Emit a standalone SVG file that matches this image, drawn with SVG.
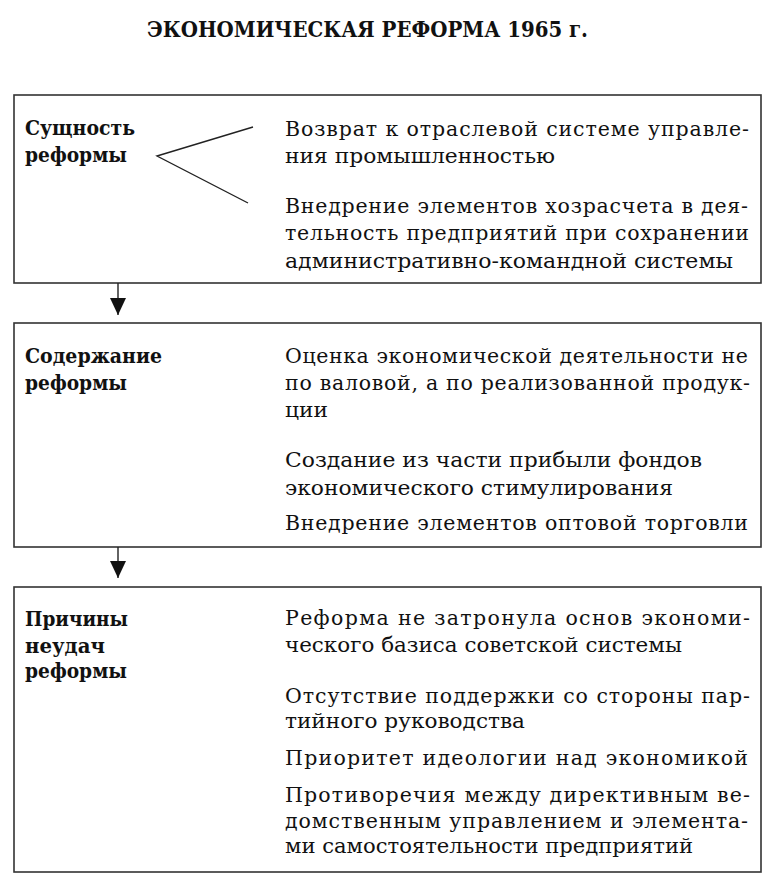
<svg xmlns="http://www.w3.org/2000/svg" width="768" height="883" viewBox="0 0 768 883">
<style>
.box{fill:#fff;stroke:#333;stroke-width:1.6}
.t{font-family:"DejaVu Serif","Liberation Serif",serif;font-size:20.5px;fill:#111}
.h{font-family:"DejaVu Serif","Liberation Serif",serif;font-size:21px;font-weight:bold;fill:#111}
.title{font-family:"DejaVu Serif","Liberation Serif",serif;font-size:23px;font-weight:bold;fill:#111}
.ln{stroke:#222;stroke-width:1.4;fill:none}
</style>
<defs>
<marker id="ah" markerWidth="18" markerHeight="16" refX="17" refY="8" orient="auto" markerUnits="userSpaceOnUse" viewBox="0 0 18 16">
<path d="M0,0 L17,8 L0,16 Z" fill="#111"/>
</marker>
</defs>
<rect width="768" height="883" fill="#fff"/>
<text class="title" x="147" y="37" textLength="441" lengthAdjust="spacingAndGlyphs">ЭКОНОМИЧЕСКАЯ РЕФОРМА 1965 г.</text>

<g id="node-essence">
<rect class="box" x="14" y="95" width="747" height="188"/>
<text class="h" x="25" y="135" textLength="110" lengthAdjust="spacingAndGlyphs">Сущность</text>
<text class="h" x="25" y="162" textLength="102" lengthAdjust="spacingAndGlyphs">реформы</text>
<polyline class="ln" points="253,127 157,156 248,203"/>
<text class="t" x="285" y="136" textLength="464" lengthAdjust="spacing">Возврат к отраслевой системе управле-</text>
<text class="t" x="285" y="163" textLength="270" lengthAdjust="spacingAndGlyphs">ния промышленностью</text>
<text class="t" x="285" y="213" textLength="463" lengthAdjust="spacing">Внедрение элементов хозрасчета в дея-</text>
<text class="t" x="285" y="240" textLength="464" lengthAdjust="spacing">тельность предприятий при сохранении</text>
<text class="t" x="285" y="268" textLength="448" lengthAdjust="spacingAndGlyphs">административно-командной системы</text>
</g>

<g id="node-content">
<rect class="box" x="14" y="323" width="747" height="224"/>
<text class="h" x="25" y="363" textLength="137" lengthAdjust="spacingAndGlyphs">Содержание</text>
<text class="h" x="25" y="390" textLength="102" lengthAdjust="spacingAndGlyphs">реформы</text>
<text class="t" x="285" y="363" textLength="463" lengthAdjust="spacing">Оценка экономической деятельности не</text>
<text class="t" x="285" y="390" textLength="465" lengthAdjust="spacing">по валовой, а по реализованной продук-</text>
<text class="t" x="285" y="417" textLength="43" lengthAdjust="spacingAndGlyphs">ции</text>
<text class="t" x="285" y="467" textLength="417" lengthAdjust="spacingAndGlyphs">Создание из части прибыли фондов</text>
<text class="t" x="285" y="495" textLength="388" lengthAdjust="spacingAndGlyphs">экономического стимулирования</text>
<text class="t" x="285" y="530" textLength="463" lengthAdjust="spacing">Внедрение элементов оптовой торговли</text>
</g>

<g id="node-failures">
<rect class="box" x="14" y="587" width="747" height="285"/>
<text class="h" x="25" y="626" textLength="103" lengthAdjust="spacingAndGlyphs">Причины</text>
<text class="h" x="25" y="653" textLength="80" lengthAdjust="spacingAndGlyphs">неудач</text>
<text class="h" x="25" y="678" textLength="102" lengthAdjust="spacingAndGlyphs">реформы</text>
<text class="t" x="285" y="625" textLength="465" lengthAdjust="spacing">Реформа не затронула основ экономи-</text>
<text class="t" x="285" y="652" textLength="397" lengthAdjust="spacingAndGlyphs">ческого базиса советской системы</text>
<text class="t" x="285" y="703" textLength="465" lengthAdjust="spacing">Отсутствие поддержки со стороны пар-</text>
<text class="t" x="285" y="728" textLength="240" lengthAdjust="spacingAndGlyphs">тийного руководства</text>
<text class="t" x="285" y="765" textLength="463" lengthAdjust="spacing">Приоритет идеологии над экономикой</text>
<text class="t" x="285" y="802" textLength="465" lengthAdjust="spacing">Противоречия между директивным ве-</text>
<text class="t" x="285" y="828" textLength="463" lengthAdjust="spacing">домственным управлением и элемента-</text>
<text class="t" x="285" y="853" textLength="408" lengthAdjust="spacingAndGlyphs">ми самостоятельности предприятий</text>
</g>

<g id="connectors">
<line class="ln" x1="118" y1="283" x2="118" y2="315" marker-end="url(#ah)"/>
<line class="ln" x1="118" y1="547" x2="118" y2="578" marker-end="url(#ah)"/>
</g>
</svg>
